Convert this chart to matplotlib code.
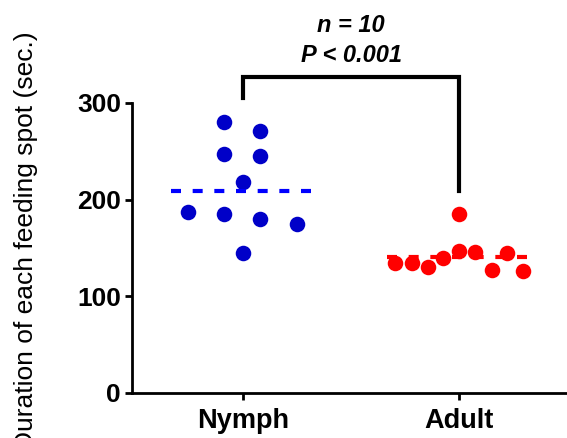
import numpy as np
import matplotlib
matplotlib.use("Agg")
import matplotlib.pyplot as plt

plt.rcParams['font.family'] = ['Liberation Sans', 'DejaVu Sans']

# data
groups = ['Nymph', 'Adult']
nymph_vals = [280.6, 271, 247.2, 245.5, 218.3, 187.2, 185.5, 180, 175.2, 145.2]
nymph_jit = [-0.087, 0.08, -0.087, 0.08, 0, -0.253, -0.087, 0.08, 0.249, 0]
adult_vals = [184.9, 134.8, 134.2, 130.7, 139.3, 146.9, 145.5, 127.2, 144.5, 126.5]
adult_jit = [0, -0.296, -0.219, -0.145, -0.073, 0, 0.074, 0.154, 0.221, 0.295]
mean_lines = [208.5, 140.4]
yticks = [0, 100, 200, 300]

fig = plt.figure(figsize=(5.67, 4.38), dpi=100)
ax = fig.add_axes([132/567, 45/438, 1 - 132/567, 290/438])

ax.scatter(np.array(nymph_jit), nymph_vals, s=125, color='#0000C8', zorder=3, linewidths=0)
ax.scatter(1 + np.array(adult_jit), adult_vals, s=125, color='#FF0000', zorder=3, linewidths=0)

line_cols = ['#0000FF', '#FF0000']
for i, m in enumerate(mean_lines):
    ax.plot([i - 0.335, i + 0.32], [m, m], color=line_cols[i], lw=3,
            linestyle=(0, (2.4, 2.8)), dash_capstyle='butt', zorder=4)

# significance bracket
ax.plot([0, 0, 1, 1], [305, 327, 327, 209], color='black', lw=3, clip_on=False,
        solid_joinstyle='miter')
ax.text(0.5, 373, 'n = 10', ha='center', va='baseline', fontsize=17,
        fontweight='bold', style='italic')
ax.text(0.5, 342, 'P < 0.001', ha='center', va='baseline', fontsize=17,
        fontweight='bold', style='italic')

ax.set_xlim(-0.514, 1.5)
ax.set_ylim(0, 300)
ax.set_xticks([0, 1])
ax.set_xticklabels(groups, fontsize=19.5, fontweight='bold')
ax.set_yticks(yticks)
ax.set_yticklabels([str(t) for t in yticks], fontsize=19, fontweight='bold')
ax.tick_params(width=2, length=5)
ax.tick_params(axis='x', pad=6)
ax.tick_params(axis='y', pad=3)
ax.spines['top'].set_visible(False)
ax.spines['right'].set_visible(False)
for s in ['left', 'bottom']:
    ax.spines[s].set_linewidth(2)

# the label runs off the bottom edge in the original, too
fig.text(38/567, 0.45, 'Duration of each feeding spot (sec.)', rotation=90,
         ha='right', va='center', fontsize=19)

fig.savefig('out.png', dpi=100)
